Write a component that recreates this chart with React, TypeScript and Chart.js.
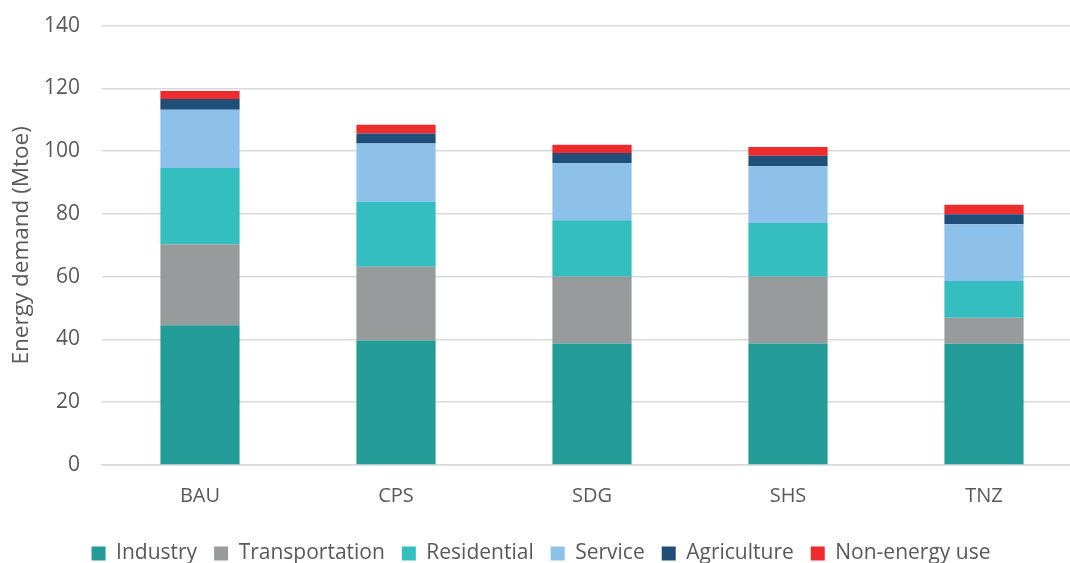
import React, { useEffect, useRef } from "react";
import { Chart, registerables } from "chart.js";

Chart.register(...registerables);

const scenarios = ["BAU", "CPS", "SDG", "SHS", "TNZ"];
const industry = [44.5, 39.7, 38.7, 38.7, 38.6];
const transportation = [25.8, 23.5, 21.3, 21.3, 8.3];
const residential = [24.3, 20.7, 18.0, 17.1, 11.7];
const service = [18.6, 18.5, 18.2, 18.1, 18.1];
const agriculture = [3.4, 3.2, 3.2, 3.3, 3.2];
const nonEnergyUse = [2.6, 2.8, 2.6, 2.8, 3.0];
const yTicks = [0, 20, 40, 60, 80, 100, 120, 140];

const FONT = "'Open Sans', sans-serif";
const TEXT = "#595959";

export default function App() {
  const canvasRef = useRef<HTMLCanvasElement | null>(null);

  useEffect(() => {
    if (!canvasRef.current) return;
    const mk = (label: string, data: number[], color: string) => ({
      label,
      data,
      backgroundColor: color,
      borderWidth: 0,
      barPercentage: 0.404,
      categoryPercentage: 1,
    });
    const chart = new Chart(canvasRef.current, {
      type: "bar",
      data: {
        labels: scenarios,
        datasets: [
          mk("Industry", industry, "#239C98"),
          mk("Transportation", transportation, "#989B9C"),
          mk("Residential", residential, "#34BEC0"),
          mk("Service", service, "#8DC1E9"),
          mk("Agriculture", agriculture, "#1F4E79"),
          mk("Non-energy use", nonEnergyUse, "#EE2B2D"),
        ],
      },
      options: {
        animation: false,
        responsive: true,
        maintainAspectRatio: false,
        layout: { padding: { top: 8, left: 0, right: 0, bottom: 0 } },
        plugins: {
          tooltip: { enabled: false },
          legend: {
            position: "bottom",
            labels: {
              font: { family: FONT, size: 21 },
              color: TEXT,
              boxWidth: 14,
              boxHeight: 14,
              padding: 17,
            },
          },
        },
        scales: {
          x: {
            stacked: true,
            grid: { display: false },
            border: { color: "#D9D9D9", width: 1.5 },
            ticks: { font: { family: FONT, size: 20 }, color: TEXT, padding: 11 },
            afterFit: (axis: any) => {
              axis.height += 7;
            },
          },
          y: {
            stacked: true,
            min: 0,
            max: 140,
            afterBuildTicks: (axis: any) => {
              axis.ticks = yTicks.map((v) => ({ value: v }));
            },
            afterFit: (axis: any) => {
              axis.width = 102;
            },
            grid: { color: "#D9D9D9", lineWidth: 1.5, drawTicks: false },
            border: { display: false },
            ticks: { font: { family: FONT, size: 21 }, color: TEXT, padding: 22 },
            title: {
              display: true,
              text: "Energy demand (Mtoe)",
              font: { family: FONT, size: 22.5 },
              color: TEXT,
              padding: { top: 8, bottom: 0 },
            },
          },
        },
      },
    });
    return () => chart.destroy();
  }, []);

  return (
    <div
      style={{
        position: "fixed",
        left: 0,
        top: 0,
        width: 1070,
        height: 563,
        overflow: "hidden",
        background: "#fff",
      }}
    >
      <div style={{ width: 1082, height: 583, marginTop: -9 }}>
        <canvas ref={canvasRef} />
      </div>
    </div>
  );
}
